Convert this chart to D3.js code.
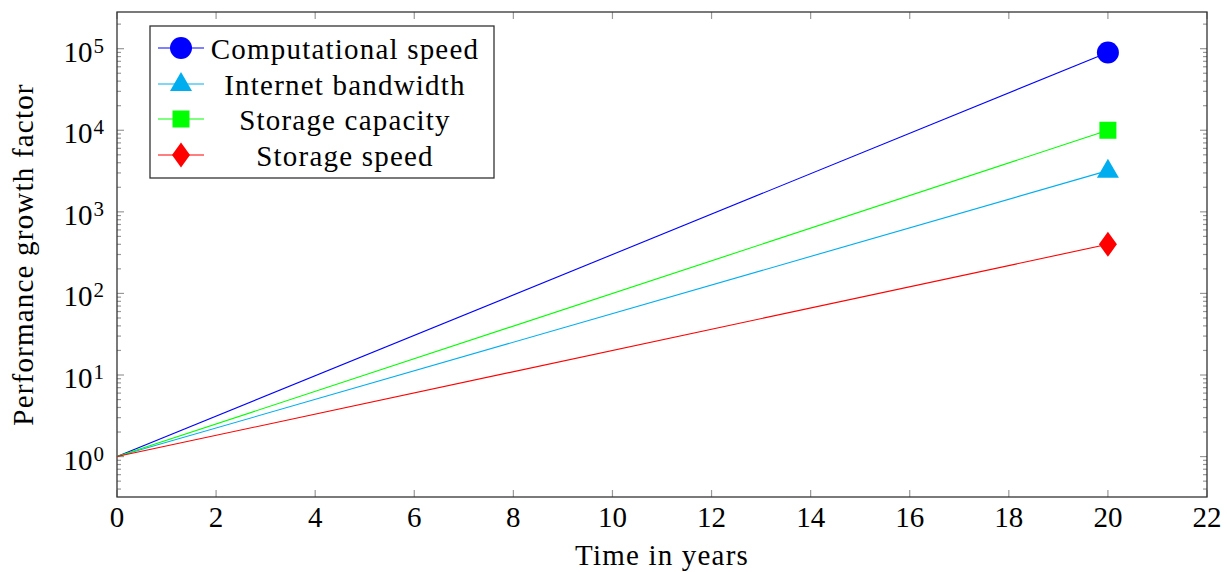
<!DOCTYPE html>
<html>
<head>
<meta charset="utf-8">
<script src="https://cdn.jsdelivr.net/npm/d3@7"></script>
<style>
  body { margin: 0; background: #fff; }
  text { font-family: "Liberation Serif", "DejaVu Serif", serif; fill: #000; }
  .words { letter-spacing: 1.2px; }
</style>
</head>
<body>
<div id="chart"></div>
<script>
// data
var years = [0, 20];
var seriesNames = ["Computational speed", "Internet bandwidth", "Storage capacity", "Storage speed"];
var computationalSpeed = [1, 90000];
var internetBandwidth = [1, 3200];
var storageCapacity = [1, 10000];
var storageSpeed = [1, 400];
var xTicks = [0, 2, 4, 6, 8, 10, 12, 14, 16, 18, 20, 22];
var yDecades = [0, 1, 2, 3, 4, 5];

var seriesValues = [computationalSpeed, internetBandwidth, storageCapacity, storageSpeed];
var colors = ["#0000ff", "#00aeef", "#00ff00", "#ff0000"];
var symbols = ["circle", "triangle", "square", "diamond"];

var W = 1227, H = 572;
var plot = {left: 117, right: 1207, top: 12, bottom: 497};
var fontSize = "29px";

var svg = d3.select("#chart").append("svg")
    .attr("width", W)
    .attr("height", H);

var x = d3.scaleLinear().domain([0, 22]).range([plot.left, plot.right]);

// pgfplots style: enlarge log limits by 10%
var allVals = [].concat.apply([], seriesValues);
var lmin = Math.log10(d3.min(allVals)), lmax = Math.log10(d3.max(allVals));
var pad = (lmax - lmin) * 0.1;
var y = d3.scaleLog()
    .domain([Math.pow(10, lmin - pad), Math.pow(10, lmax + pad)])
    .range([plot.bottom, plot.top]);

var tickColor = "#999";

// x ticks, bottom and top, inward
var gx = svg.append("g");
xTicks.forEach(function(t){
    gx.append("line").attr("x1", x(t)).attr("x2", x(t))
        .attr("y1", plot.bottom).attr("y2", plot.bottom - 7)
        .attr("stroke", tickColor).attr("stroke-width", 1.2);
    gx.append("line").attr("x1", x(t)).attr("x2", x(t))
        .attr("y1", plot.top).attr("y2", plot.top + 7)
        .attr("stroke", tickColor).attr("stroke-width", 1.2);
    gx.append("text")
        .attr("x", x(t)).attr("y", plot.bottom + 30)
        .attr("text-anchor", "middle")
        .style("font-size", fontSize)
        .text(t);
});

// y ticks, log with minors
var gy = svg.append("g");
y.ticks().forEach(function(t){
    var l = Math.log10(t);
    var major = Math.abs(l - Math.round(l)) < 1e-9;
    var len = major ? 7 : 4;
    gy.append("line").attr("x1", plot.left).attr("x2", plot.left + len)
        .attr("y1", y(t)).attr("y2", y(t))
        .attr("stroke", tickColor).attr("stroke-width", 1.2);
    gy.append("line").attr("x1", plot.right).attr("x2", plot.right - len)
        .attr("y1", y(t)).attr("y2", y(t))
        .attr("stroke", tickColor).attr("stroke-width", 1.2);
});
yDecades.forEach(function(d){
    var t = gy.append("text")
        .attr("x", 104).attr("y", y(Math.pow(10, d)) + 13)
        .attr("text-anchor", "end")
        .style("font-size", fontSize);
    t.append("tspan").text("10");
    t.append("tspan").attr("dy", -9).attr("dx", 1).style("font-size", "21px").text(d);
});

// frame
svg.append("rect")
    .attr("x", plot.left).attr("y", plot.top)
    .attr("width", plot.right - plot.left).attr("height", plot.bottom - plot.top)
    .attr("fill", "none").attr("stroke", "#333").attr("stroke-width", 1.3);

// lines
var line = d3.line()
    .x(function(d){ return x(d[0]); })
    .y(function(d){ return y(d[1]); });

function markerPath(sym){
    if (sym === "circle") return d3.symbol(d3.symbolCircle, Math.PI * 11 * 11)();
    if (sym === "square") return d3.symbol(d3.symbolSquare, 17 * 17)();
    if (sym === "triangle") return "M0,-12L11,7L-11,7Z";
    return "M0,-12.5L9,0L0,12.5L-9,0Z";
}

seriesValues.forEach(function(vals, i){
    var pts = years.map(function(yr, j){ return [yr, vals[j]]; });
    svg.append("path")
        .datum(pts)
        .attr("fill", "none")
        .attr("stroke", colors[i])
        .attr("stroke-width", 1.1)
        .attr("d", line);
    var last = pts[pts.length - 1];
    svg.append("path")
        .attr("d", markerPath(symbols[i]))
        .attr("transform", "translate(" + x(last[0]) + "," + y(last[1]) + ")")
        .attr("fill", colors[i]);
});

// legend
var legend = svg.append("g");
legend.append("rect")
    .attr("x", 150).attr("y", 26).attr("width", 344).attr("height", 152)
    .attr("fill", "#fff").attr("stroke", "#333").attr("stroke-width", 1.3);
var rowY = [48, 84, 119, 155];
seriesNames.forEach(function(name, i){
    legend.append("line")
        .attr("x1", 158).attr("x2", 204)
        .attr("y1", rowY[i]).attr("y2", rowY[i])
        .attr("stroke", colors[i]).attr("stroke-width", 1.1);
    legend.append("path")
        .attr("d", markerPath(symbols[i]))
        .attr("transform", "translate(181," + rowY[i] + ")")
        .attr("fill", colors[i]);
    legend.append("text")
        .attr("class", "words")
        .attr("x", 345).attr("y", rowY[i] + 10.5)
        .attr("text-anchor", "middle")
        .style("font-size", fontSize)
        .text(name);
});

// axis labels
svg.append("text")
    .attr("class", "words")
    .attr("x", (plot.left + plot.right) / 2).attr("y", 565)
    .attr("text-anchor", "middle")
    .style("font-size", fontSize)
    .text("Time in years");

svg.append("text")
    .attr("class", "words")
    .attr("transform", "translate(33," + ((plot.top + plot.bottom) / 2) + ") rotate(-90)")
    .attr("text-anchor", "middle")
    .style("font-size", fontSize)
    .text("Performance growth factor");
</script>
</body>
</html>
